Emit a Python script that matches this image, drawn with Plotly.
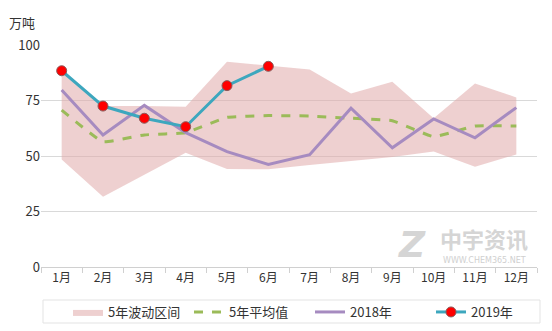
import plotly.graph_objects as go

months = ["1月", "2月", "3月", "4月", "5月", "6月", "7月", "8月", "9月", "10月", "11月", "12月"]
band_upper = [88.4, 72.5, 72.5, 72.2, 92.5, 90.6, 89.0, 78.2, 83.5, 67.0, 82.7, 76.4]
band_lower = [48.4, 31.7, 41.5, 51.5, 44.1, 44.0, 46.0, 47.6, 49.5, 52.0, 45.2, 50.7]
avg5 = [70.7, 56.4, 59.5, 60.5, 67.4, 68.2, 68.0, 67.0, 65.9, 58.7, 63.5, 63.5]
y2018 = [79.7, 59.5, 72.8, 60.5, 52.0, 46.2, 50.6, 71.5, 53.7, 66.7, 58.2, 71.8]
y2019 = [88.4, 72.5, 67.0, 63.2, 81.7, 90.4]

font = "Noto Sans CJK SC"
W, H = 552, 331
L, R, T, B = 41, 15, 45, 64
PW, PH = W - L - R, H - T - B

def px(xp):
    return (xp - L) / PW

def py(yp):
    return (H - B - yp) / PH

fig = go.Figure()
fig.add_trace(go.Scatter(x=months, y=band_lower, mode="lines", line=dict(width=0, color="rgba(0,0,0,0)"),
                         showlegend=False, hoverinfo="skip"))
fig.add_trace(go.Scatter(x=months, y=band_upper, mode="lines", line=dict(width=0, color="rgba(0,0,0,0)"),
                         fill="tonexty", fillcolor="rgba(224,170,170,0.55)", name="5年波动区间"))
fig.add_trace(go.Scatter(x=months, y=avg5, mode="lines", name="5年平均值",
                         line=dict(color="#9BBB59", width=3, dash="dash", shape="spline", smoothing=0.3)))
fig.add_trace(go.Scatter(x=months, y=y2018, mode="lines", name="2018年",
                         line=dict(color="#A68BC0", width=3)))
fig.add_trace(go.Scatter(x=months[:len(y2019)], y=y2019, mode="lines+markers", name="2019年",
                         line=dict(color="#3DA7BE", width=3),
                         marker=dict(color="#FF0000", size=10, line=dict(color="#8a5a5a", width=1))))

fig.add_annotation(text="万吨", x=0, y=1, xref="paper", yref="paper", xanchor="right", yanchor="bottom",
                   xshift=-4, yshift=11, showarrow=False, font=dict(size=13, color="#333333", family=font))
fig.add_annotation(text="<b><i>Z</i></b>", xref="paper", yref="paper", x=px(412), y=py(244),
                   xanchor="center", yanchor="middle", showarrow=False,
                   font=dict(size=36, color="#d5d5d5", family="DejaVu Sans"))
fig.add_annotation(text="<b>中宇资讯</b>", xref="paper", yref="paper", x=px(484), y=py(238),
                   xanchor="center", yanchor="middle", showarrow=False,
                   font=dict(size=22, color="#d5d5d5", family=font))
fig.add_annotation(text="WWW.CHEM365.NET", xref="paper", yref="paper", x=px(484), y=py(260),
                   xanchor="center", yanchor="middle", showarrow=False,
                   font=dict(size=8, color="#d0d0d0", family="DejaVu Sans"))

# legend frame
fig.add_shape(type="rect", xref="paper", yref="paper", x0=px(43), x1=px(540), y0=py(323), y1=py(300),
              line=dict(color="#e3e3e3", width=1), fillcolor="rgba(0,0,0,0)", layer="below")

fig.update_layout(
    width=W, height=H,
    margin=dict(l=L, r=R, t=T, b=B, autoexpand=False),
    paper_bgcolor="white", plot_bgcolor="white",
    font=dict(family=font, size=13, color="#333333"),
    showlegend=True,
    legend=dict(orientation="h", x=68 / W, xanchor="left", xref="container",
                y=1 - 297 / H, yanchor="top", yref="container", traceorder="normal",
                borderwidth=0, bgcolor="rgba(0,0,0,0)", font=dict(size=13, family=font),
                itemwidth=30, tracegroupgap=0, entrywidth=76, entrywidthmode="pixels"),
    xaxis=dict(type="category", range=[-0.5, 11.5], showgrid=False, showline=True, linecolor="#d0d0d0",
               ticks="outside", tickson="boundaries", ticklen=5, tickcolor="#d0d0d0",
               tickfont=dict(size=12, family=font), fixedrange=True),
    yaxis=dict(range=[0, 100], tickvals=[0, 25, 50, 75, 100], showgrid=True, gridcolor="#d9d9d9",
               gridwidth=1, zeroline=False, showline=False, ticks="", tickfont=dict(size=13, family=font)),
)
fig.write_html("out.html")
